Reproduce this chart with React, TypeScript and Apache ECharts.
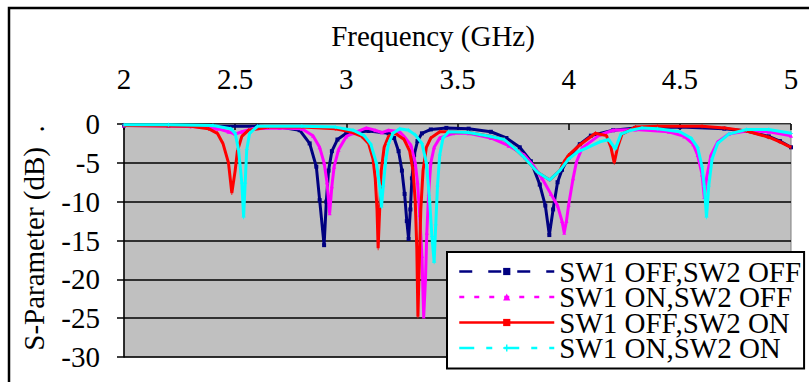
import React, { useEffect, useRef } from "react";
import * as echarts from "echarts";

const seriesNames = [
  "SW1 OFF,SW2 OFF",
  "SW1 ON,SW2 OFF",
  "SW1 OFF,SW2 ON",
  "SW1 ON,SW2 ON",
];

const swOffOff: [number, number][] = [
  [2.0, -0.2], [2.2, -0.2], [2.4, -0.3], [2.6, -0.3], [2.7, -0.4], [2.79, -0.8], [2.835, -2.5],
  [2.865, -5.5], [2.88, -9.8], [2.9, -15.6], [2.91, -10], [2.92, -6], [2.935, -3.5], [2.96, -2],
  [3.0, -1.2], [3.1, -0.9], [3.19, -1.2], [3.215, -1.8], [3.235, -3.5], [3.25, -6], [3.262, -9],
  [3.272, -12.5], [3.28, -14.8], [3.288, -11], [3.295, -7], [3.305, -4], [3.32, -2.2], [3.34, -1.2],
  [3.38, -0.7], [3.45, -0.5], [3.55, -0.6], [3.65, -1.0], [3.72, -1.8], [3.78, -3], [3.83, -4.8],
  [3.87, -7.8], [3.895, -10.5], [3.913, -14.3], [3.93, -11], [3.95, -7.5], [3.97, -5.9], [4.0, -4.3],
  [4.05, -2.6], [4.1, -1.5], [4.2, -0.8], [4.3, -0.5], [4.5, -0.4], [4.7, -0.6], [4.8, -0.9],
  [4.9, -1.6], [4.95, -2.2], [5.0, -3.0],
];

const swOnOff: [number, number][] = [
  [2.0, -0.2], [2.3, -0.3], [2.42, -0.6], [2.47, -1.0], [2.5, -1.3], [2.53, -1.0], [2.58, -0.6],
  [2.7, -0.5], [2.8, -0.6], [2.85, -1.5], [2.88, -3], [2.9, -5], [2.913, -7.5], [2.925, -11.5],
  [2.935, -8], [2.945, -5.5], [2.965, -3.3], [3.0, -1.6], [3.03, -1.2], [3.09, -0.5], [3.13, -0.8],
  [3.16, -1.1], [3.19, -0.8], [3.24, -1.0], [3.26, -1.6], [3.29, -2.7], [3.31, -5], [3.32, -7.5],
  [3.33, -11.7], [3.34, -17], [3.348, -24.8], [3.356, -20], [3.362, -14], [3.37, -9], [3.38, -5],
  [3.395, -3], [3.42, -1.8], [3.48, -1.2], [3.55, -1.2], [3.65, -1.8], [3.73, -2.8], [3.8, -4],
  [3.84, -5.3], [3.88, -7], [3.92, -9], [3.95, -10.5], [3.97, -12.5], [3.98, -14], [3.99, -12.5],
  [4.0, -10.4], [4.02, -7], [4.035, -4.9], [4.06, -3.1], [4.14, -1.4], [4.2, -0.8], [4.3, -0.7],
  [4.45, -1.0], [4.52, -1.6], [4.56, -2.6], [4.58, -4], [4.6, -6.5], [4.61, -9.4], [4.62, -7],
  [4.64, -4], [4.67, -2.3], [4.72, -1.3], [4.8, -0.9], [4.9, -1.0], [5.0, -1.5],
];

const swOffOn: [number, number][] = [
  [2.0, -0.2], [2.3, -0.3], [2.38, -0.6], [2.42, -1.2], [2.445, -2.5], [2.47, -5], [2.485, -8.9],
  [2.5, -6], [2.51, -3.5], [2.53, -1.6], [2.56, -0.8], [2.65, -0.4], [2.8, -0.4], [2.95, -0.6],
  [3.02, -1.0], [3.07, -1.6], [3.1, -2.5], [3.12, -4.5], [3.13, -7], [3.138, -11], [3.143, -16],
  [3.15, -11], [3.157, -6], [3.17, -3], [3.19, -1.6], [3.22, -1.2], [3.26, -2], [3.285, -3.5],
  [3.3, -6], [3.31, -10], [3.317, -16], [3.322, -24.8], [3.328, -18], [3.335, -11], [3.345, -6],
  [3.36, -3], [3.38, -1.8], [3.42, -1.0], [3.46, -1.0], [3.55, -1.1], [3.65, -1.6], [3.71, -2.0],
  [3.76, -3.2], [3.8, -4.3], [3.86, -6.2], [3.915, -7.2], [3.96, -6], [3.98, -4.8], [4.0, -4],
  [4.05, -2.7], [4.12, -1.2], [4.17, -1.5], [4.19, -3], [4.205, -5], [4.22, -3], [4.24, -1.3],
  [4.3, -0.4], [4.4, -0.3], [4.6, -0.3], [4.7, -0.5], [4.8, -0.9], [4.9, -1.7], [4.95, -2.3],
  [5.0, -3.0],
];

const swOnOn: [number, number][] = [
  [2.0, -0.1], [2.2, -0.1], [2.4, -0.2], [2.48, -0.6], [2.5, -1.2], [2.515, -3.3], [2.53, -7.6],
  [2.538, -12], [2.545, -7.6], [2.552, -3.3], [2.565, -1.2], [2.6, -0.3], [2.8, -0.3], [2.95, -0.4],
  [3.03, -0.8], [3.08, -1.5], [3.11, -2.6], [3.135, -5], [3.15, -8], [3.158, -10.7], [3.166, -8],
  [3.178, -4.5], [3.19, -2.5], [3.21, -1.2], [3.24, -0.6], [3.28, -0.8], [3.31, -1.4], [3.34, -2.5],
  [3.36, -5], [3.375, -10], [3.385, -14.5], [3.395, -17.8], [3.402, -13], [3.41, -8], [3.42, -4],
  [3.435, -1.8], [3.46, -1.0], [3.55, -1.1], [3.65, -1.6], [3.71, -2.0], [3.76, -3.2], [3.8, -4.3],
  [3.86, -6.2], [3.915, -7.2], [3.96, -6], [4.0, -4.5], [4.04, -3.6], [4.08, -3.1], [4.14, -2.3],
  [4.18, -2], [4.21, -3.2], [4.235, -1.3], [4.28, -0.8], [4.33, -0.5], [4.4, -0.6], [4.5, -1.0],
  [4.55, -1.8], [4.58, -3], [4.6, -5.5], [4.61, -8], [4.62, -12], [4.63, -8], [4.645, -4.5],
  [4.67, -2.5], [4.72, -1.3], [4.8, -0.7], [4.9, -0.7], [5.0, -1.2],
];

const seriesData = [swOffOff, swOnOff, swOffOn, swOnOn];
const colors = ["#000080", "#ff00ff", "#ff0000", "#00ffff"];
const symbols = [
  "rect",
  "triangle",
  "path://M4,0H6V10H4Z",
  "path://M4,0H6V4H10V6H6V10H4V6H0V4H4Z",
];
const legendDash: any[] = [[13, 16], [5, 10], "solid", [15, 12, 6, 12]];

const FONT = "Liberation Serif";

export default function App() {
  const ref = useRef<HTMLDivElement>(null);
  useEffect(() => {
    if (!ref.current) return;
    const chart = echarts.init(ref.current, undefined, { renderer: "svg" });
    chart.setOption({
      animation: false,
      backgroundColor: "#ffffff",
      textStyle: { fontFamily: FONT },
      grid: {
        left: 124,
        top: 124,
        width: 667,
        height: 233,
        show: true,
        backgroundColor: "#c0c0c0",
        borderColor: "#808080",
        borderWidth: 1,
        containLabel: false,
      },
      xAxis: {
        type: "value",
        position: "top",
        min: 2,
        max: 5,
        interval: 0.5,
        axisLine: { show: true, onZero: false, lineStyle: { color: "#808080", width: 1 } },
        axisTick: { show: true, inside: true, length: 6, lineStyle: { color: "#000", width: 1.5 } },
        axisLabel: { margin: 31, fontSize: 29, fontFamily: FONT, color: "#000" },
        splitLine: { show: false },
      },
      yAxis: {
        type: "value",
        min: -30,
        max: 0,
        interval: 5,
        axisLine: { show: true, onZero: false, lineStyle: { color: "#000", width: 1.5 } },
        axisTick: { show: true, inside: false, length: 7, lineStyle: { color: "#000", width: 1.5 } },
        axisLabel: { margin: 24, fontSize: 29, fontFamily: FONT, color: "#000" },
        splitLine: { show: true, lineStyle: { color: "#000", width: 1.5 } },
      },
      legend: {
        orient: "vertical",
        left: 447,
        top: 252,
        height: 400,
        padding: [5, 3, 6, 11],
        itemWidth: 95,
        itemHeight: 9,
        itemGap: -3.5,
        backgroundColor: "#ffffff",
        borderColor: "#000",
        borderWidth: 2,
        borderRadius: 0,
        textStyle: { fontSize: 29, fontFamily: FONT, color: "#000" },
        data: seriesNames.map((name, i) => ({
          name,
          lineStyle: { type: legendDash[i], width: 2.5, color: colors[i] },
          itemStyle: { color: colors[i] },
        })),
      },
      graphic: [
        {
          type: "rect",
          shape: { x: 9, y: 8, width: 830, height: 400 },
          style: { fill: "none", stroke: "#000", lineWidth: 2.5 },
          silent: true,
        },
        {
          type: "text",
          x: 433,
          y: 36,
          style: {
            text: "Frequency (GHz)",
            fontSize: 29,
            fontFamily: FONT,
            fill: "#000",
            align: "center",
            verticalAlign: "middle",
          },
        },
        {
          type: "text",
          x: 34,
          y: 238,
          rotation: Math.PI / 2,
          style: {
            text: "S-Parameter (dB)  .",
            fontSize: 29,
            fontFamily: FONT,
            fill: "#000",
            align: "center",
            verticalAlign: "middle",
          },
        },
      ],
      series: seriesData.map((data, i) => ({
        name: seriesNames[i],
        type: "line",
        data,
        color: colors[i],
        symbol: symbols[i],
        symbolKeepAspect: true,
        symbolSize: 4,
        showSymbol: true,
        lineStyle: { width: 3, color: colors[i] },
        itemStyle: { color: colors[i] },
        emphasis: { disabled: true },
        z: 2 + i,
      })),
    });
    return () => chart.dispose();
  }, []);
  return (
    <div
      ref={ref}
      style={{ position: "absolute", left: 0, top: 0, width: 809, height: 382 }}
    />
  );
}
